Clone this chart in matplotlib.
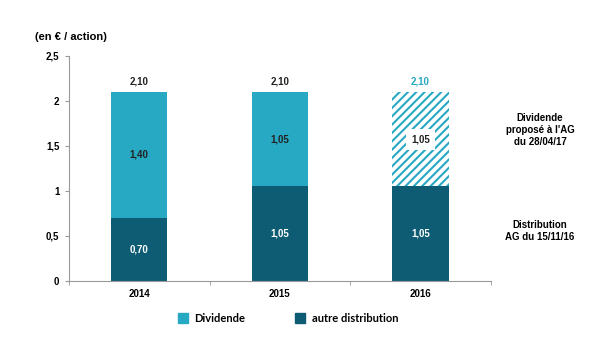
import numpy as np
import matplotlib.pyplot as plt
from matplotlib.patches import Patch

years = ['2014', '2015', '2016']
autre = [0.70, 1.05, 1.05]
dividende = [1.40, 1.05, 1.05]
totals = [2.10, 2.10, 2.10]
proposed = [False, False, True]

light = '#27A9C3'
dark = '#0D5C73'

plt.rcParams['font.family'] = ['Liberation Sans', 'DejaVu Sans']
plt.rcParams['hatch.linewidth'] = 1.5

fig = plt.figure(figsize=(6, 3.49), dpi=100)
ax = fig.add_axes([0.115, 0.195, 0.703, 0.645])

x = np.arange(len(years))
w = 0.40

ax.bar(x, autre, w, color=dark)
for i in x:
    if proposed[i]:
        ax.bar(i, dividende[i], w, bottom=autre[i], color='white',
               edgecolor=light, hatch='////', linewidth=0)
    else:
        ax.bar(i, dividende[i], w, bottom=autre[i], color=light)

def fr(v):
    return f'{v:.2f}'.replace('.', ',')

for i in x:
    ax.text(i, autre[i] / 2, fr(autre[i]), ha='center', va='center',
            color='white', fontsize=7, fontweight='bold')
    mid = autre[i] + dividende[i] / 2
    if proposed[i]:
        ax.text(i, mid, fr(dividende[i]), ha='center', va='center',
                color='#222222', fontsize=7, fontweight='bold',
                bbox=dict(facecolor='white', edgecolor='none', pad=4))
    else:
        ax.text(i, mid, fr(dividende[i]), ha='center', va='center',
                color='#222222', fontsize=7, fontweight='bold')
    ax.text(i, totals[i] + 0.06, fr(totals[i]), ha='center', va='bottom',
            color=light if proposed[i] else '#222222', fontsize=7, fontweight='bold')

ax.set_xlim(-0.5, 2.5)
ax.set_ylim(0, 2.5)
ax.set_yticks([0, 0.5, 1, 1.5, 2, 2.5])
ax.set_yticklabels(['0', '0,5', '1', '1,5', '2', '2,5'], fontsize=7, fontweight='bold')
ax.set_xticks(x)
ax.set_xticklabels(years, fontsize=7, fontweight='bold')
ax.set_xticks([-0.5, 0.5, 1.5, 2.5], minor=True)
ax.tick_params(axis='x', which='major', length=0, pad=6)
ax.tick_params(axis='x', which='minor', length=3, color='#999999')
ax.tick_params(axis='y', length=3, color='#999999', pad=4)
for s in ['top', 'right']:
    ax.spines[s].set_visible(False)
for s in ['left', 'bottom']:
    ax.spines[s].set_color('#999999')

fig.text(0.058, 0.893, '(en € / action)', fontsize=8, fontweight='bold', va='center')
fig.text(0.9, 0.627, "Dividende\nproposé à l'AG\ndu 28/04/17", ha='center', va='center',
         fontsize=7, fontweight='bold', linespacing=1.25)
fig.text(0.9, 0.338, "Distribution\nAG du 15/11/16", ha='center', va='center',
         fontsize=7, fontweight='bold', linespacing=1.25)

handles = [Patch(color=light, label='Dividende'), Patch(color=dark, label='autre distribution')]
fig.legend(handles=handles, loc='center', bbox_to_anchor=(0.48, 0.088), ncol=2,
           frameon=False, prop={'family': 'Lato', 'weight': 'bold', 'size': 8},
           handlelength=0.9, handleheight=0.9, columnspacing=4.5, handletextpad=0.6)

fig.savefig('out.png', dpi=100)
